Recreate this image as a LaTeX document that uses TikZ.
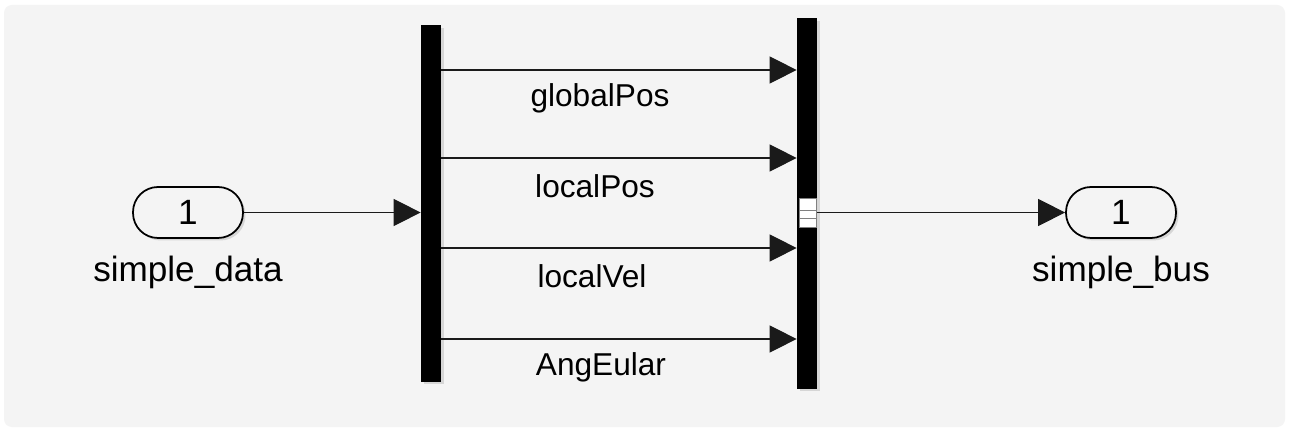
\documentclass[tikz,border=0pt]{standalone}
\usepackage{fontspec}
\setmainfont{Liberation Sans}
\usepackage{tikz}
\usetikzlibrary{arrows.meta}
\usetikzlibrary{shadows}
\definecolor{canvas}{HTML}{F4F4F4}
\definecolor{wire}{HTML}{1A1A1A}

\begin{document}
\begin{tikzpicture}[x=0.02cm, y=-0.02cm,
    font=\fontsize{18}{21}\selectfont,
    blkshadow/.style={drop shadow={shadow xshift=0.05cm, shadow yshift=-0.05cm, opacity=0.25}},
    port/.style={draw, line width=1pt, fill=canvas, rounded corners=0.5cm,
                 minimum width=2.2cm, minimum height=1.02cm, blkshadow},
    portlab/.style={font=\fontsize{20}{24}\selectfont},
    bar/.style={fill=black, inner sep=0pt, minimum width=0.4cm, blkshadow},
    sig/.style={draw=wire, line width=0.6pt, -{Triangle[length=0.54cm, width=0.54cm]}}]
    \useasboundingbox (0,0) rectangle (1289,432);
    \fill[white] (0,0) rectangle (1289,432);
    \fill[canvas, rounded corners=0.16cm] (4,5) rectangle (1285,427);

    % ports
    \node[port, portlab] (in) at (188,212.5) {1};
    \node[portlab] (inlab) at (188,272) {simple\_data};
    \node[port, portlab] (out) at (1121,212.5) {1};
    \node[portlab] (outlab) at (1121,272) {simple\_bus};

    % bus selector and bus creator
    \node[bar, minimum height=7.14cm] (sel) at (431,203.5) {};
    \node[bar, minimum height=7.42cm] (bus) at (807,203.5) {};
    \draw[fill=white, draw=gray] (799,198) rectangle (816,227);
    \draw[gray] (799,210.5) -- (816,210.5) (799,218) -- (816,218);

    \draw[sig] (in.east) -- (sel.west |- in.east);
    \foreach \y/\name/\lx [count = \i] in {70/globalPos/600, 158/localPos/595,
                                          248/localVel/592, 339/AngEular/601}{
      \coordinate (s\i) at (sel.east |- 0,\y);
      \coordinate (b\i) at (bus.west |- 0,\y);
      \draw[sig] (s\i) -- (b\i);
      \node (lab\i) at (\lx,\y+28) {\name};
    }
    \draw[sig] (bus.east |- out.west) -- (out.west);
  \end{tikzpicture}
\end{document}
